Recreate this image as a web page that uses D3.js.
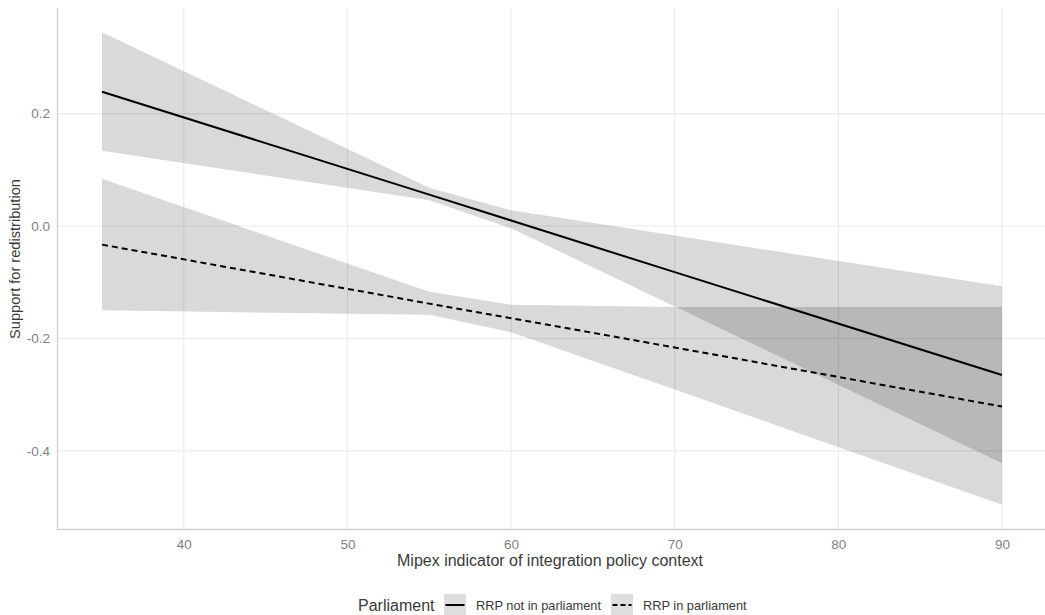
<!DOCTYPE html>
<html>
<head>
<meta charset="utf-8">
<script src="https://cdn.jsdelivr.net/npm/d3@7"></script>
<style>
  html, body { margin: 0; padding: 0; background: #fff; }
  svg { display: block; font-family: "Liberation Sans", Arial, sans-serif; }
</style>
</head>
<body>
<svg id="chart" width="1045" height="615"></svg>
<script>
/* ── Data ── */
const mipex = [35, 55, 60, 70, 90];

// RRP not in parliament
const fitNot   = [0.239, 0.056, 0.010, -0.082, -0.265];
const lowerNot = [0.134, 0.046, -0.004, -0.143, -0.422];
const upperNot = [0.345, 0.068, 0.028, -0.017, -0.107];

// RRP in parliament
const fitIn   = [-0.033, -0.138, -0.164, -0.216, -0.321];
const lowerIn = [-0.150, -0.158, -0.189, -0.291, -0.496];
const upperIn = [0.084, -0.117, -0.140, -0.144, -0.144];

const xTicks = [40, 50, 60, 70, 80, 90];
const yTicks = [-0.4, -0.2, 0.0, 0.2];
const seriesNames = ['RRP not in parliament', 'RRP in parliament'];
const dashes = [null, '6,4'];

/* ── Dimensions ── */
const W = 1045, H = 615;
const plot = { left: 57, right: 1047, top: 8, bottom: 529 };

const svg = d3.select('#chart');

/* ── Scales ── */
const x = d3.scaleLinear().domain([32.25, 92.75]).range([plot.left, plot.right]);
const y = d3.scaleLinear().domain([-0.539, 0.388]).range([plot.bottom, plot.top]);

/* ── Grid lines ── */
const grid = svg.append('g');
grid.selectAll(null).data(xTicks).join('line')
  .attr('x1', (d) => x(d)).attr('x2', (d) => x(d))
  .attr('y1', plot.top).attr('y2', plot.bottom)
  .attr('stroke', '#ebebeb').attr('stroke-width', 1.1);
grid.selectAll(null).data(yTicks).join('line')
  .attr('x1', plot.left).attr('x2', plot.right)
  .attr('y1', (d) => y(d)).attr('y2', (d) => y(d))
  .attr('stroke', '#ebebeb').attr('stroke-width', 1.1);

/* ── Ribbons ── */
const series = [
  { fit: fitNot, lo: lowerNot, hi: upperNot },
  { fit: fitIn, lo: lowerIn, hi: upperIn }
];

const area = d3.area()
  .x((d) => x(d.m))
  .y0((d) => y(d.lo))
  .y1((d) => y(d.hi));

const line = d3.line()
  .x((d) => x(d.m))
  .y((d) => y(d.fit));

series.forEach((s) => {
  const rows = mipex.map((m, i) => ({ m, fit: s.fit[i], lo: s.lo[i], hi: s.hi[i] }));
  s.rows = rows;
  svg.append('path')
    .datum(rows)
    .attr('d', area)
    .attr('fill', '#000')
    .attr('fill-opacity', 0.15);
});

/* ── Fitted lines ── */
series.forEach((s, i) => {
  svg.append('path')
    .datum(s.rows)
    .attr('d', line)
    .attr('fill', 'none')
    .attr('stroke', '#000')
    .attr('stroke-width', 2)
    .attr('stroke-dasharray', dashes[i]);
});

/* ── Axes ── */
const xAxis = svg.append('g')
  .attr('transform', `translate(0,${plot.bottom})`)
  .call(d3.axisBottom(x).tickValues(xTicks).tickSize(0).tickPadding(10).tickFormat(d3.format('d')));
xAxis.select('.domain').attr('stroke', '#d0d0d0').attr('stroke-width', 1.4);
xAxis.selectAll('text')
  .attr('fill', '#7f7f7f')
  .attr('font-size', 13.5)
  .attr('font-family', '"Liberation Sans", Arial, sans-serif');

const yAxis = svg.append('g')
  .attr('transform', `translate(${plot.left},0)`)
  .call(d3.axisLeft(y).tickValues(yTicks).tickSize(0).tickPadding(7).tickFormat(d3.format('.1f')));
yAxis.select('.domain').attr('stroke', '#d0d0d0').attr('stroke-width', 1.4);
yAxis.selectAll('text')
  .attr('fill', '#7f7f7f')
  .attr('font-size', 13.5)
  .attr('font-family', '"Liberation Sans", Arial, sans-serif')
  .text((d) => d3.format('.1f')(d).replace('−', '-'));

/* ── Axis titles ── */
svg.append('text')
  .attr('x', (plot.left + plot.right) / 2 - 2)
  .attr('y', 566)
  .attr('text-anchor', 'middle')
  .attr('fill', '#3a3a3a')
  .attr('font-size', 16)
  .text('Mipex indicator of integration policy context');

svg.append('text')
  .attr('transform', `translate(20,${259}) rotate(-90)`)
  .attr('text-anchor', 'middle')
  .attr('fill', '#3a3a3a')
  .attr('font-size', 14.6)
  .text('Support for redistribution');

/* ── Legend ── */
const legend = svg.append('g');
legend.append('text')
  .attr('x', 358).attr('y', 610.5)
  .attr('fill', '#3a3a3a')
  .attr('font-size', 16)
  .text('Parliament');

const keyX = [444, 611];
const labelX = [476, 643];
seriesNames.forEach((name, i) => {
  legend.append('rect')
    .attr('x', keyX[i]).attr('y', 594)
    .attr('width', 22).attr('height', 22)
    .attr('fill', '#000').attr('fill-opacity', 0.13);
  legend.append('line')
    .attr('x1', keyX[i] + 1.5).attr('x2', keyX[i] + 20.5)
    .attr('y1', 605).attr('y2', 605)
    .attr('stroke', '#000').attr('stroke-width', 2)
    .attr('stroke-dasharray', i === 1 ? '5,3' : null);
  legend.append('text')
    .attr('x', labelX[i]).attr('y', 610)
    .attr('fill', '#3a3a3a')
    .attr('font-size', 12.8)
    .text(name);
});
</script>
</body>
</html>
